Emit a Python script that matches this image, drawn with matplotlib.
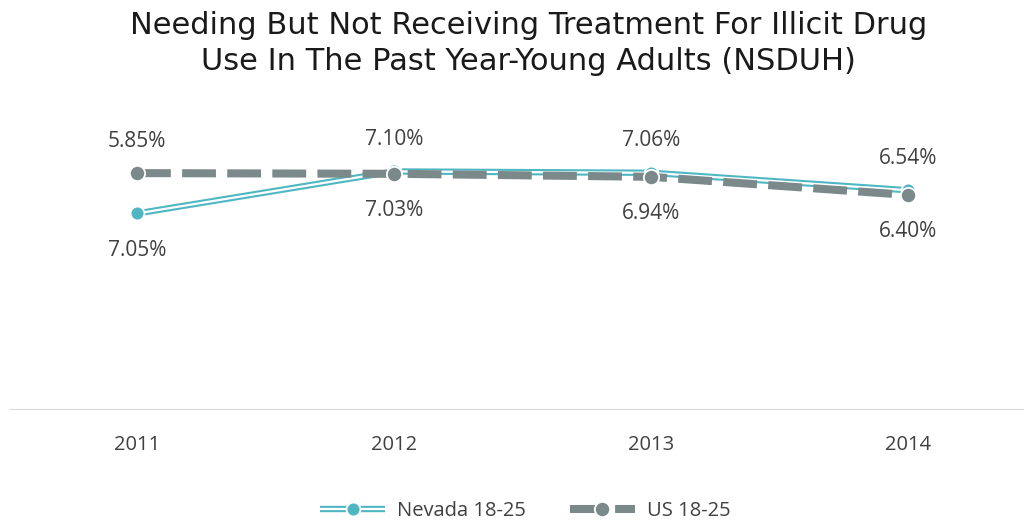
import matplotlib.pyplot as plt
from matplotlib.lines import Line2D
from matplotlib.legend_handler import HandlerTuple

years = ['2011', '2012', '2013', '2014']
nevada = [5.85, 7.10, 7.06, 6.54]
us = [7.05, 7.03, 6.94, 6.40]
title_lines = ['Needing But Not Receiving Treatment For Illicit Drug',
               'Use In The Past Year-Young Adults (NSDUH)']

teal = '#4fb7c2'
grey = '#7b898a'
txt = '#404040'
lab_font = 'Open Sans'

fig = plt.figure(figsize=(10.24, 5.25), dpi=100)
ax = fig.add_axes([8.5 / 1024, 115 / 525, 1028 / 1024, 302.4 / 525])
x = list(range(len(years)))

ax.axhline(0, color='#d9d9d9', lw=1.5, zorder=1)

# Nevada: double line (teal with white core)
ax.plot(x, nevada, color=teal, lw=4.6, solid_capstyle='butt', zorder=3)
ax.plot(x, nevada, color='white', lw=1.6, solid_capstyle='butt', zorder=3.1)
ax.plot(x, nevada, 'o', color=teal, ms=10, mec='white', mew=1.3, zorder=3.2)

# US: thick dashed grey
ax.plot(x, us, color=grey, lw=5.8, dashes=(4.2, 1.4), zorder=4)
ax.plot(x, us, 'o', color=grey, ms=11, mec='white', mew=1.3, zorder=4.1)

for i in x:
    hi = max(nevada[i], us[i])
    lo = min(nevada[i], us[i])
    ax.annotate(f'{nevada[i]:.2f}%', (i, hi), xytext=(0, 32), textcoords='offset pixels',
                ha='center', va='center', fontsize=15, color=txt, family=lab_font)
    ax.annotate(f'{us[i]:.2f}%', (i, lo), xytext=(0, -37), textcoords='offset pixels',
                ha='center', va='center', fontsize=15, color=txt, family=lab_font)

ax.set_xlim(-0.5, len(years) - 0.5)
ax.set_ylim(0, 9)
ax.set_xticks(x)
ax.set_xticklabels(years, fontsize=14.5, color=txt, family=lab_font)
ax.tick_params(axis='x', length=0, pad=18)
ax.set_yticks([])
for s in ax.spines.values():
    s.set_visible(False)
ax.patch.set_alpha(0)

fig.text(0.516, 1 - 25 / 525, title_lines[0], ha='center', va='center',
         fontsize=22, color='#1a1a1a', family='DejaVu Sans')
fig.text(0.516, 1 - 61 / 525, title_lines[1], ha='center', va='center',
         fontsize=22, color='#1a1a1a', family='DejaVu Sans')

h_nv = (Line2D([], [], color=teal, lw=4.6, solid_capstyle='butt'),
        Line2D([], [], color='white', lw=1.6, solid_capstyle='butt'),
        Line2D([], [], marker='o', ls='', color=teal, ms=10, mec='white', mew=1.3))
h_us = (Line2D([], [], color=grey, lw=5.8, dashes=(4.2, 1.4)),
        Line2D([], [], marker='o', ls='', color=grey, ms=11, mec='white', mew=1.3))
fig.legend([h_nv, h_us], ['Nevada 18-25', 'US 18-25'],
           handler_map={tuple: HandlerTuple(ndivide=1)},
           loc='center', bbox_to_anchor=(0.513, 1 - 511 / 525), ncol=2, frameon=False,
           prop={'family': lab_font, 'size': 14.5}, labelcolor=txt,
           handlelength=3.2, columnspacing=2.2, handletextpad=0.6)

fig.savefig('out.png', dpi=100)
